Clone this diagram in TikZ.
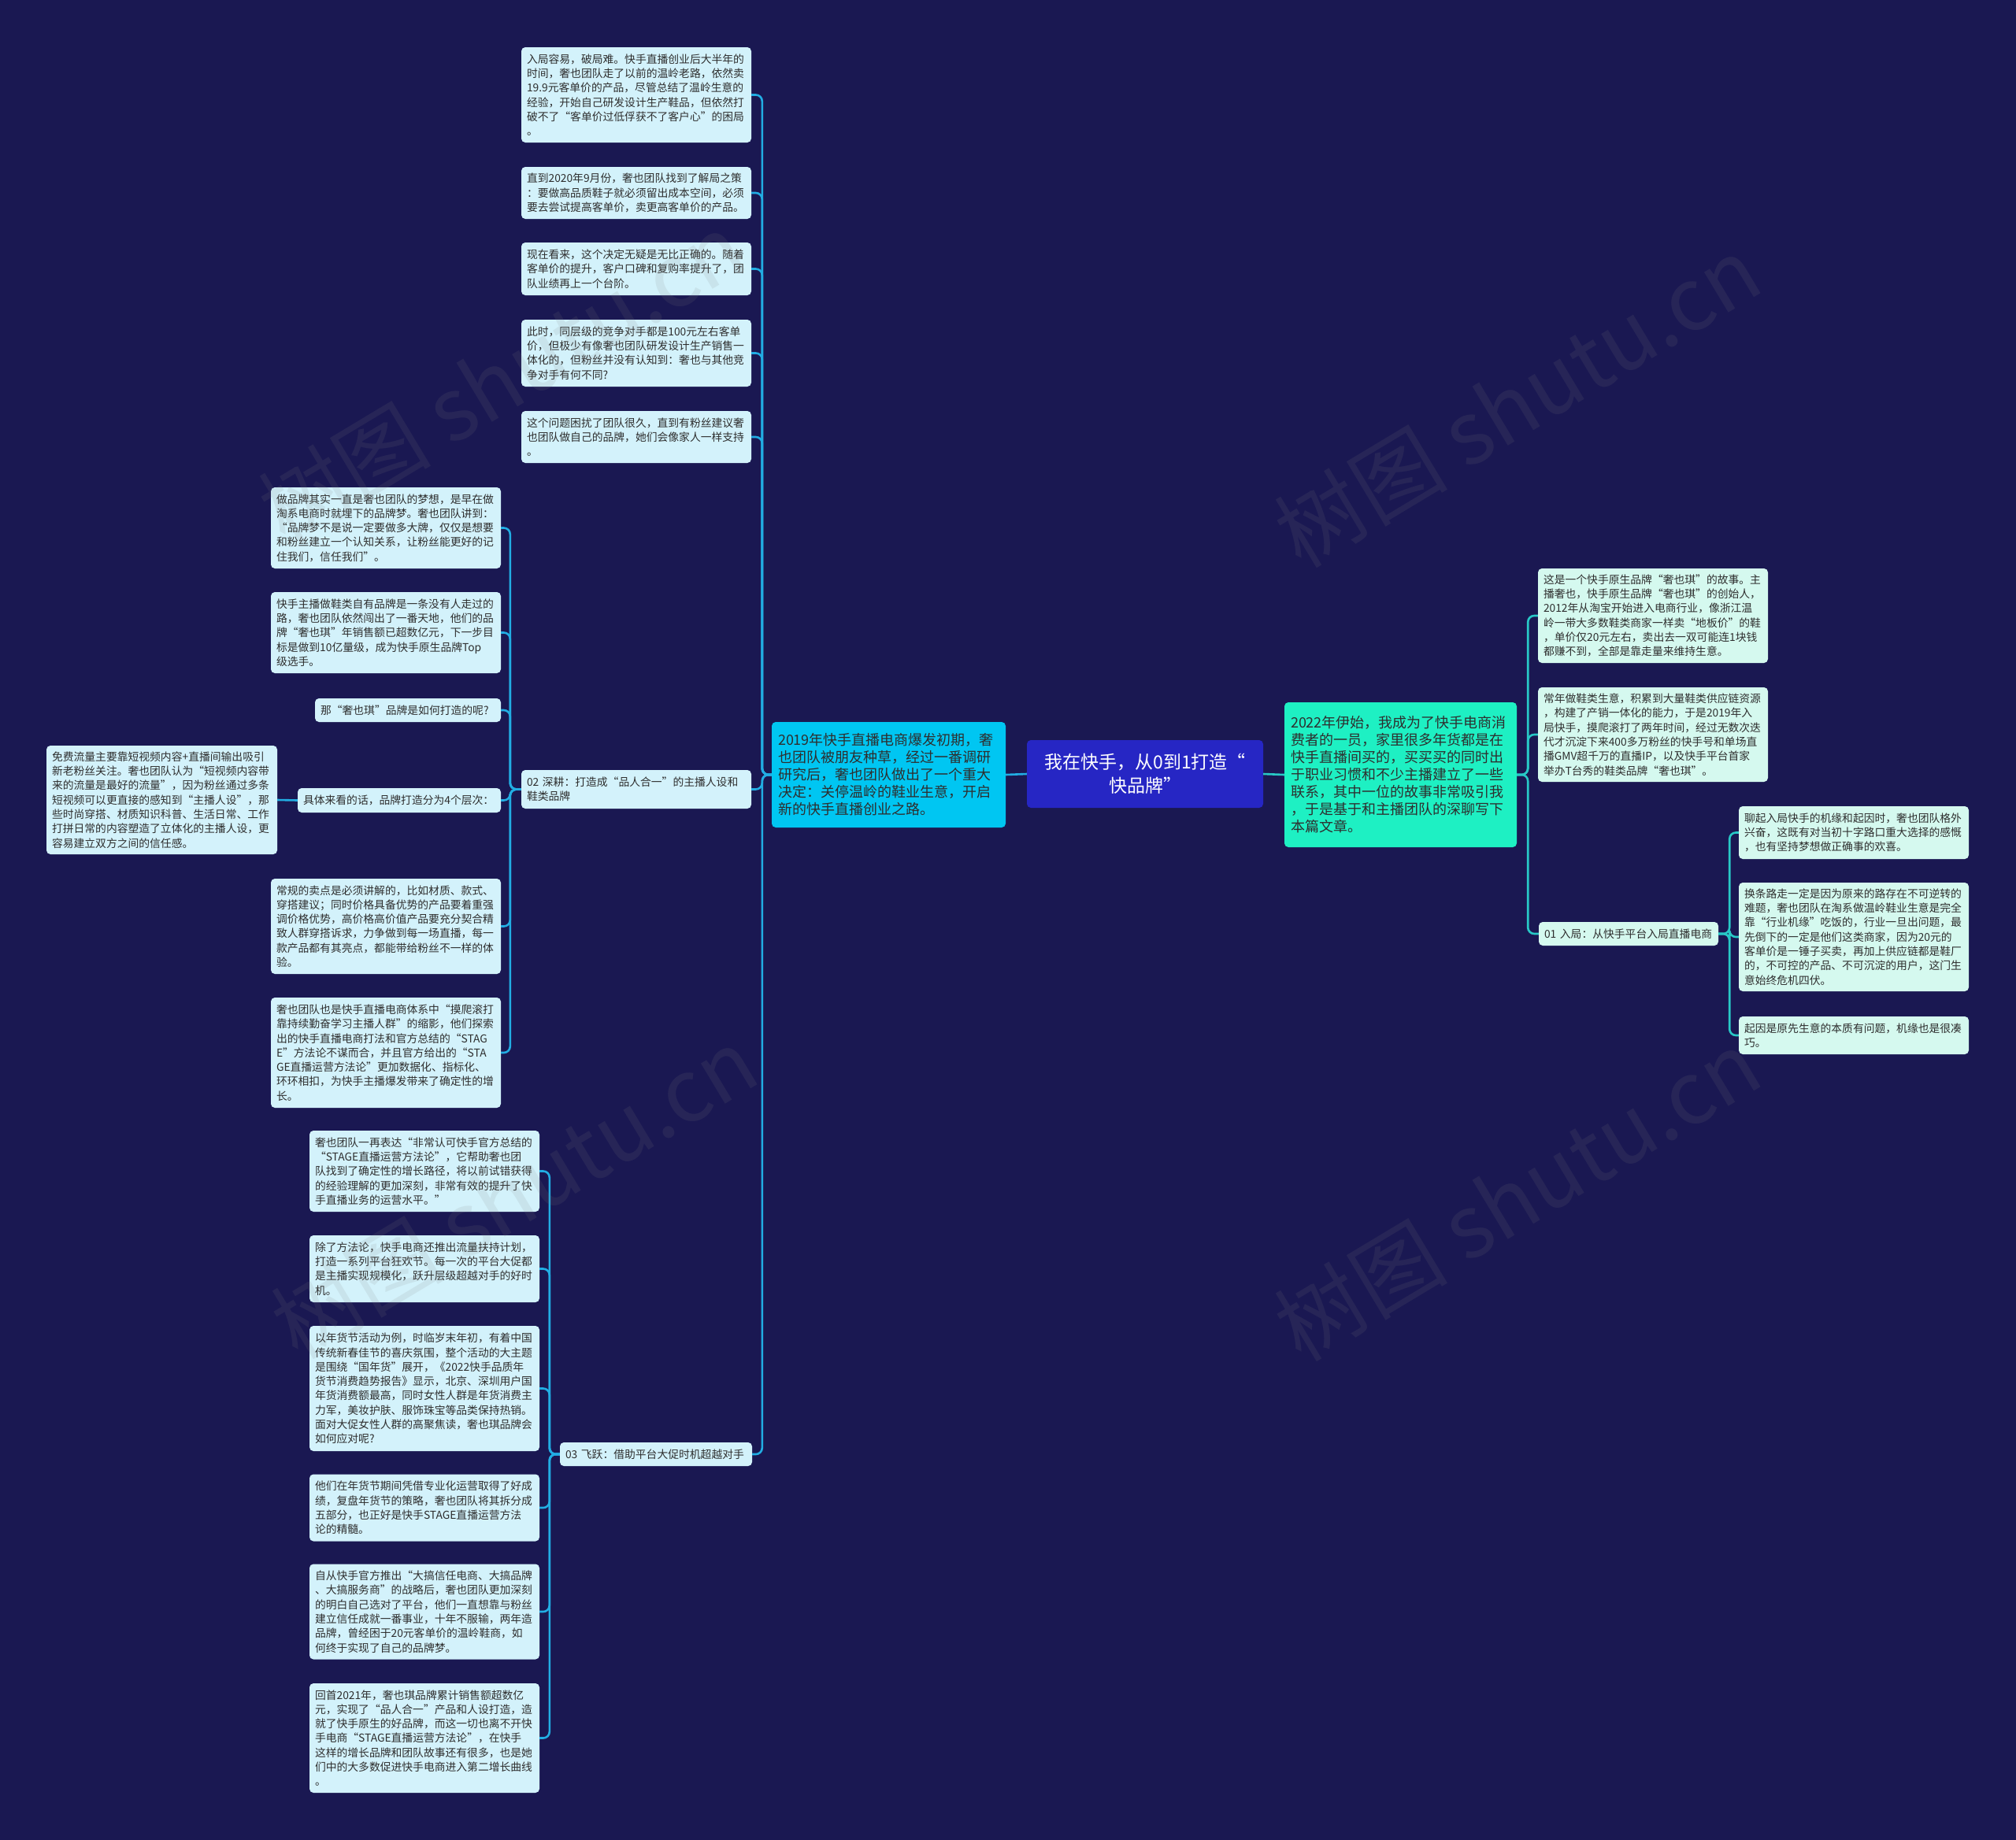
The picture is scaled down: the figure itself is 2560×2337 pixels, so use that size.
\documentclass[tikz,border=0pt]{standalone}
\usepackage{fontspec}
\setmainfont{Noto Sans CJK SC}
\hyphenpenalty=10000
\definecolor{bgc}{HTML}{1A1852}
\definecolor{lineL}{HTML}{22ADE3}
\definecolor{lineR}{HTML}{28C8C6}
\definecolor{leafLc}{HTML}{D3F2FB}
\definecolor{leafRc}{HTML}{D5F9EF}
\definecolor{lmainc}{HTML}{00C6F2}
\definecolor{rmainc}{HTML}{1EF0C3}
\definecolor{cenc}{HTML}{2626C4}
\definecolor{txtc}{HTML}{2E2E2E}
\begin{document}
\begin{tikzpicture}[x=1pt,y=-1pt,
  leafL/.style={fill=leafLc, rounded corners=5pt, text=txtc, align=left, inner xsep=7pt, inner ysep=0pt,
    text width=278pt, minimum width=292pt, font=\fontsize{13.8}{18.3}\selectfont},
  leafR/.style={leafL, fill=leafRc},
  mainbox/.style={rounded corners=5pt, text=txtc, align=left, inner xsep=8pt, inner ysep=0pt,
    font=\fontsize{18}{22}\selectfont},
  cL/.style={draw=lineL, line width=2.6pt, rounded corners=8pt},
  cR/.style={draw=lineR, line width=2.6pt, rounded corners=8pt},
  wm/.style={text=gray, opacity=0.13, rotate=31, font=\fontsize{110}{110}\selectfont}
]
\fill[bgc] (0,0) rectangle (2560,2337);

% central and main nodes
\node[fill=cenc, rounded corners=5pt, text=white, align=center, minimum width=300pt, minimum height=86pt,
  font=\fontsize{23}{30}\selectfont] (cen) at (1454,983) {我在快手，从0到1打造“\\快品牌”};
\node[mainbox, fill=lmainc, text width=281pt, minimum height=134pt] (lmain) at (1128.5,984)
 {2019年快手直播电商爆发初期，奢\\也团队被朋友种草，经过一番调研\\研究后，奢也团队做出了一个重大\\决定：关停温岭的鞋业生意，开启\\新的快手直播创业之路。};
\node[mainbox, fill=rmainc, text width=279pt, minimum height=184pt] (rmain) at (1778.5,984)
 {2022年伊始，我成为了快手电商消\\费者的一员，家里很多年货都是在\\快手直播间买的，买买买的同时出\\于职业习惯和不少主播建立了一些\\联系，其中一位的故事非常吸引我\\，于是基于和主播团队的深聊写下\\本篇文章。};

% left column of leaves
\node[leafL, minimum height=121pt] (L1) at (808,120.5)
 {入局容易，破局难。快手直播创业后大半年的\\时间，奢也团队走了以前的温岭老路，依然卖\\19.9元客单价的产品，尽管总结了温岭生意的\\经验，开始自己研发设计生产鞋品，但依然打\\破不了“客单价过低俘获不了客户心”的困局\\。};
\node[leafL, minimum height=66pt] (L2) at (808,245)
 {直到2020年9月份，奢也团队找到了解局之策\\：要做高品质鞋子就必须留出成本空间，必须\\要去尝试提高客单价，卖更高客单价的产品。};
\node[leafL, minimum height=67pt] (L3) at (808,341.5)
 {现在看来，这个决定无疑是无比正确的。随着\\客单价的提升，客户口碑和复购率提升了，团\\队业绩再上一个台阶。};
\node[leafL, minimum height=85pt] (L4) at (808,448.5)
 {此时，同层级的竞争对手都是100元左右客单\\价，但极少有像奢也团队研发设计生产销售一\\体化的，但粉丝并没有认知到：奢也与其他竞\\争对手有何不同?};
\node[leafL, minimum height=66pt] (L5) at (808,555)
 {这个问题困扰了团队很久，直到有粉丝建议奢\\也团队做自己的品牌，她们会像家人一样支持\\。};
\node[leafL, minimum height=49pt] (b02) at (808,1002.5)
 {02~深耕：打造成“品人合一”的主播人设和\\鞋类品牌};
\node[leafL, minimum height=30pt, text width=230pt, minimum width=244pt] (b03) at (833,1847)
 {03~飞跃：借助平台大促时机超越对手};

% children of 02
\node[leafL, minimum height=103pt] (A1) at (490,670.5)
 {做品牌其实一直是奢也团队的梦想，是早在做\\淘系电商时就埋下的品牌梦。奢也团队讲到：\\“品牌梦不是说一定要做多大牌，仅仅是想要\\和粉丝建立一个认知关系，让粉丝能更好的记\\住我们，信任我们”。};
\node[leafL, minimum height=103pt] (A2) at (490,803.5)
 {快手主播做鞋类自有品牌是一条没有人走过的\\路，奢也团队依然闯出了一番天地，他们的品\\牌“奢也琪”年销售额已超数亿元，下一步目\\标是做到10亿量级，成为快手原生品牌Top\\级选手。};
\node[leafL, minimum height=30pt, text width=222pt, minimum width=236pt] (A3) at (518,902)
 {那“奢也琪”品牌是如何打造的呢?};
\node[leafL, minimum height=31pt, text width=244pt, minimum width=258pt] (A4) at (507,1016.5)
 {具体来看的话，品牌打造分为4个层次：};
\node[leafL, minimum height=138pt, text width=279pt, minimum width=293pt] (FL) at (205.5,1016)
 {免费流量主要靠短视频内容+直播间输出吸引\\新老粉丝关注。奢也团队认为“短视频内容带\\来的流量是最好的流量”，因为粉丝通过多条\\短视频可以更直接的感知到“主播人设”，那\\些时尚穿搭、材质知识科普、生活日常、工作\\打拼日常的内容塑造了立体化的主播人设，更\\容易建立双方之间的信任感。};
\node[leafL, minimum height=121pt] (A5) at (490,1176.5)
 {常规的卖点是必须讲解的，比如材质、款式、\\穿搭建议；同时价格具备优势的产品要着重强\\调价格优势，高价格高价值产品要充分契合精\\致人群穿搭诉求，力争做到每一场直播，每一\\款产品都有其亮点，都能带给粉丝不一样的体\\验。};
\node[leafL, minimum height=140pt] (A6) at (490,1337)
 {奢也团队也是快手直播电商体系中“摸爬滚打\\靠持续勤奋学习主播人群”的缩影，他们探索\\出的快手直播电商打法和官方总结的“STAG\\E”方法论不谋而合，并且官方给出的“STA\\GE直播运营方法论”更加数据化、指标化、\\环环相扣，为快手主播爆发带来了确定性的增\\长。};

% children of 03
\node[leafL, minimum height=103pt] (G1) at (539,1487.5)
 {奢也团队一再表达“非常认可快手官方总结的\\“STAGE直播运营方法论”，它帮助奢也团\\队找到了确定性的增长路径，将以前试错获得\\的经验理解的更加深刻，非常有效的提升了快\\手直播业务的运营水平。”};
\node[leafL, minimum height=85pt] (G2) at (539,1611.5)
 {除了方法论，快手电商还推出流量扶持计划，\\打造一系列平台狂欢节。每一次的平台大促都\\是主播实现规模化，跃升层级超越对手的好时\\机。};
\node[leafL, minimum height=159pt] (G3) at (539,1763.5)
 {以年货节活动为例，时临岁末年初，有着中国\\传统新春佳节的喜庆氛围，整个活动的大主题\\是围绕“国年货”展开，《2022快手品质年\\货节消费趋势报告》显示，北京、深圳用户国\\年货消费额最高，同时女性人群是年货消费主\\力军，美妆护肤、服饰珠宝等品类保持热销。\\面对大促女性人群的高聚焦读，奢也琪品牌会\\如何应对呢?};
\node[leafL, minimum height=85pt] (G4) at (539,1915)
 {他们在年货节期间凭借专业化运营取得了好成\\绩，复盘年货节的策略，奢也团队将其拆分成\\五部分，也正好是快手STAGE直播运营方法\\论的精髓。};
\node[leafL, minimum height=121pt] (G5) at (539,2047)
 {自从快手官方推出“大搞信任电商、大搞品牌\\、大搞服务商”的战略后，奢也团队更加深刻\\的明白自己选对了平台，他们一直想靠与粉丝\\建立信任成就一番事业，十年不服输，两年造\\品牌，曾经困于20元客单价的温岭鞋商，如\\何终于实现了自己的品牌梦。};
\node[leafL, minimum height=139pt] (G6) at (539,2207.5)
 {回首2021年，奢也琪品牌累计销售额超数亿\\元，实现了“品人合一”产品和人设打造，造\\就了快手原生的好品牌，而这一切也离不开快\\手电商“STAGE直播运营方法论”，在快手\\这样的增长品牌和团队故事还有很多，也是她\\们中的大多数促进快手电商进入第二增长曲线\\。};

% right side
\node[leafR, minimum height=120pt] (R1) at (2099,782)
 {这是一个快手原生品牌“奢也琪”的故事。主\\播奢也，快手原生品牌“奢也琪”的创始人，\\2012年从淘宝开始进入电商行业，像浙江温\\岭一带大多数鞋类商家一样卖“地板价”的鞋\\，单价仅20元左右，卖出去一双可能连1块钱\\都赚不到，全部是靠走量来维持生意。};
\node[leafR, minimum height=120pt] (R2) at (2099,933)
 {常年做鞋类生意，积累到大量鞋类供应链资源\\，构建了产销一体化的能力，于是2019年入\\局快手，摸爬滚打了两年时间，经过无数次迭\\代才沉淀下来400多万粉丝的快手号和单场直\\播GMV超千万的直播IP，以及快手平台首家\\举办T台秀的鞋类品牌“奢也琪”。};
\node[leafR, minimum height=30pt, text width=214pt, minimum width=228pt] (b01) at (2068,1186)
 {01~入局：从快手平台入局直播电商};
\node[leafR, minimum height=67pt] (S1) at (2354,1057.5)
 {聊起入局快手的机缘和起因时，奢也团队格外\\兴奋，这既有对当初十字路口重大选择的感慨\\，也有坚持梦想做正确事的欢喜。};
\node[leafR, minimum height=138pt] (S2) at (2354,1190)
 {换条路走一定是因为原来的路存在不可逆转的\\难题，奢也团队在淘系做温岭鞋业生意是完全\\靠“行业机缘”吃饭的，行业一旦出问题，最\\先倒下的一定是他们这类商家，因为20元的\\客单价是一锤子买卖，再加上供应链都是鞋厂\\的，不可控的产品、不可沉淀的用户，这门生\\意始终危机四伏。};
\node[leafR, minimum height=48pt] (S3) at (2354,1315)
 {起因是原先生意的本质有问题，机缘也是很凑\\巧。};

% connectors
\draw[cL] (cen.west) -- (lmain.east);
\draw[cR] (cen.east) -- (rmain.west);
\foreach \c in {L1,L2,L3,L4,L5,b02,b03}
  \draw[cL] (lmain.west) -- ++(-12,0) |- (\c.east);
\foreach \c in {A1,A2,A3,A4,A5,A6}
  \draw[cL] (b02.west) -- ++(-14,0) |- (\c.east);
\draw[cL] (A4.west) -- (FL.east);
\foreach \c in {G1,G2,G3,G4,G5,G6}
  \draw[cL] (b03.west) -- ++(-13,0) |- (\c.east);
\foreach \c in {R1,R2,b01}
  \draw[cR] (rmain.east) -- ++(14,0) |- (\c.west);
\foreach \c in {S1,S2,S3}
  \draw[cR] (b01.east) -- ++(14,0) |- (\c.west);

% watermarks
\node[wm] (wm1) at (637,480) {树图 shutu.cn};
\node[wm] (wm2) at (1927,510) {树图 shutu.cn};
\node[wm] (wm3) at (653,1515) {树图 shutu.cn};
\node[wm] (wm4) at (1927,1518) {树图 shutu.cn};
\end{tikzpicture}
\end{document}
